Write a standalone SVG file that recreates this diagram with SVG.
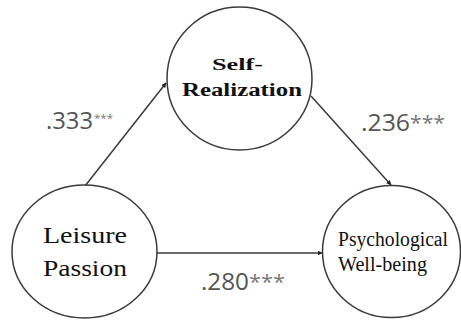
<svg xmlns="http://www.w3.org/2000/svg" width="461" height="321" viewBox="0 0 461 321">
<style>
.node{fill:#fff;stroke:#3a3a3a;stroke-width:1.5}
.edge{stroke:#3a3a3a;stroke-width:1.5;fill:none;marker-end:url(#ah)}
.nt{font-family:"Liberation Serif",serif;fill:#111}
.b{font-weight:bold}
.coef{font-family:"Open Sans","Liberation Sans",sans-serif;fill:#555;font-size:24px}
.star{font-family:"Open Sans","Liberation Sans",sans-serif;fill:#777}
</style>
<defs>
<marker id="ah" viewBox="0 0 10 10" refX="9" refY="5" markerWidth="5" markerHeight="5" orient="auto" markerUnits="userSpaceOnUse">
<path d="M0,0L10,5L0,10z" fill="#222"/>
</marker>
</defs>
<rect width="461" height="321" fill="#fff"/>
<g id="connectors">
<line class="edge" x1="85" y1="186" x2="166" y2="83"/>
<line class="edge" x1="311" y1="96" x2="391" y2="185"/>
<line class="edge" x1="157" y1="253" x2="322" y2="253"/>
<text class="coef" x="46" y="129" textLength="47" lengthAdjust="spacingAndGlyphs">.333</text>
<text class="star" x="94" y="122" font-size="11" textLength="19" lengthAdjust="spacingAndGlyphs">***</text>
<text class="coef" x="361" y="131" textLength="49" lengthAdjust="spacingAndGlyphs">.236</text>
<text class="star" x="410" y="130" font-size="20" textLength="35" lengthAdjust="spacingAndGlyphs">***</text>
<text class="coef" x="201" y="290" textLength="48" lengthAdjust="spacingAndGlyphs">.280</text>
<text class="star" x="249" y="289" font-size="20" textLength="36" lengthAdjust="spacingAndGlyphs">***</text>
</g>
<g id="self-realization">
<ellipse class="node" cx="239.5" cy="78.5" rx="72.5" ry="71.5"/>
<text class="nt b" x="212" y="70" font-size="17" textLength="51" lengthAdjust="spacingAndGlyphs">Self-</text>
<text class="nt b" x="182" y="96" font-size="18" textLength="120" lengthAdjust="spacingAndGlyphs">Realization</text>
</g>
<g id="leisure-passion">
<ellipse class="node" cx="84.5" cy="251.5" rx="72.5" ry="66.5"/>
<text class="nt" x="43" y="243" font-size="24" textLength="84" lengthAdjust="spacingAndGlyphs">Leisure</text>
<text class="nt" x="43" y="276" font-size="24" textLength="84" lengthAdjust="spacingAndGlyphs">Passion</text>
</g>
<g id="psychological-well-being">
<ellipse class="node" cx="391.5" cy="251.5" rx="69" ry="66"/>
<text class="nt" x="338" y="246" font-size="20" textLength="110" lengthAdjust="spacingAndGlyphs">Psychological</text>
<text class="nt" x="338" y="271" font-size="20" textLength="89" lengthAdjust="spacingAndGlyphs">Well-being</text>
</g>
</svg>
